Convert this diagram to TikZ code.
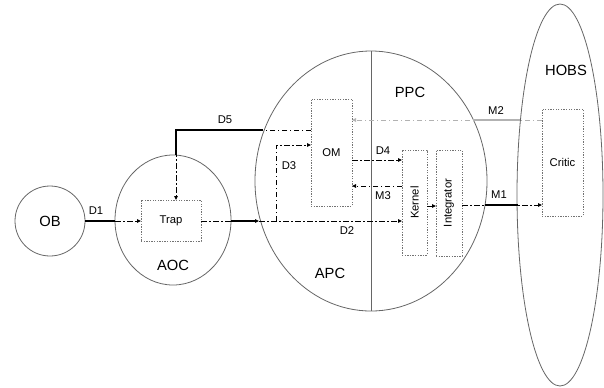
\documentclass[tikz,border=0pt]{standalone}
\usepackage{fontspec}
\setmainfont{Liberation Sans}
\usetikzlibrary{shapes.geometric,arrows.meta}
\begin{document}
\begin{tikzpicture}[x=1bp,y=-1bp,
  every node/.style={inner sep=0pt,outer sep=0pt},
  lbl/.style={font=\fontsize{11.3}{13}\selectfont},
  big/.style={font=\fontsize{14.8}{16}\selectfont},
  region/.style={draw=black!60,line width=0.8bp},
  dbox/.style={draw=black!55,line width=0.8bp,dash pattern=on 1.3bp off 1.3bp,rectangle},
  dd/.style={draw=black,line width=1bp,dash pattern=on 5.5bp off 2.5bp on 1.5bp off 2.5bp},
  ddg/.style={draw=black!30,line width=1bp,dash pattern=on 5.5bp off 2.5bp on 1.5bp off 2.5bp},
  sol/.style={draw=black,line width=1.4bp},
  solg/.style={draw=black!30,line width=1.2bp},
  tip/.style={-{Triangle[length=4bp,width=3.5bp]}}
]
\useasboundingbox (0,0) rectangle (604,387);
% regions
\node[region,circle,minimum size=70bp,big] (OB) at (50,221) {OB};
\node[region,ellipse,minimum width=116bp,minimum height=130bp] (AOC) at (173,220) {};
\node[region,ellipse,minimum width=232bp,minimum height=260bp] (BIG) at (371,181) {};
\node[region,ellipse,minimum width=86bp,minimum height=382bp] (HOBS) at (560,195) {};
\draw[region] (BIG.north) -- (BIG.south);
% boxes
\node[dbox,minimum width=60bp,minimum height=41bp,lbl] (Trap) at (171,220.5) {Trap};
\node[dbox,minimum width=41bp,minimum height=107bp,lbl] (OM) at (331.5,152.5) {OM};
\node[dbox,minimum width=25bp,minimum height=105bp] (Kernel) at (414.5,202.5) {};
\node[lbl,rotate=90] (kt) at (Kernel) {Kernel};
\node[dbox,minimum width=26bp,minimum height=106bp] (Integ) at (449,203) {};
\node[lbl,rotate=90] (it) at (Integ) {Integrator};
\node[dbox,minimum width=41bp,minimum height=107bp,lbl] (Critic) at (562.5,162.5) {Critic};
% region labels
\node[big] (laoc) at (173,265) {AOC};
\node[big] (lppc) at (410,92) {PPC};
\node[big] (lapc) at (330,273) {APC};
\node[big] (lhobs) at (566,70) {HOBS};
% edge coordinates
\coordinate (aocL) at (115,221);
\coordinate (aocR) at (231,221);
\coordinate (apcL) at (259,221);
\coordinate (d3s) at (276,221);
\coordinate (d5c) at (176,130);
\coordinate (d5b) at (263,130);
\coordinate (aocT) at (176,155);
\coordinate (m1a) at (485,205);
\coordinate (m1b) at (518,205);
\coordinate (m2a) at (473,120);
\coordinate (m2b) at (520,120);
% D1
\draw[sol] (OB.east |- aocL) -- (aocL);
\draw[dd,tip] (aocL) -- (Trap.west |- aocL);
% Trap to APC
\draw[dd] (Trap.east |- aocR) -- (aocR);
\draw[sol,tip] (aocR) -- (apcL);
% D2
\draw[dd,tip] (apcL) -- (Kernel.west |- apcL);
% D3
\draw[dd,tip] (d3s) |- (OM.west |- 0,145);
% D5
\draw[dd,tip] (OM.west |- d5c) -- (d5c) -- (Trap.north -| d5c);
\draw[sol] (d5b) -- (d5c) -- (aocT);
% D4, M3
\draw[dd,tip] (OM.east |- 0,160) -- (Kernel.west |- 0,160);
\draw[dd,tip] (Kernel.west |- 0,186) -- (OM.east |- 0,186);
% Kernel -> Integrator
\draw[dd,tip] (Kernel.east |- 0,206) -- (Integ.west |- 0,206);
% M1
\draw[dd,tip] (Integ.east |- m1a) -- (Critic.west |- m1a);
\draw[sol] (m1a) -- (m1b);
% M2
\draw[ddg,tip] (Critic.west |- m2a) -- (OM.east |- m2a);
\draw[solg] (m2a) -- (m2b);
% labels
\node[lbl] (ld1) at (96,211) {D1};
\node[lbl] (ld5) at (225,120) {D5};
\node[lbl] (ld3) at (289,166) {D3};
\node[lbl] (ld4) at (383,151) {D4};
\node[lbl] (lm3) at (383,196) {M3};
\node[lbl] (ld2) at (347,231) {D2};
\node[lbl] (lm2) at (496,111) {M2};
\node[lbl] (lm1) at (499,195) {M1};
\end{tikzpicture}
\end{document}
